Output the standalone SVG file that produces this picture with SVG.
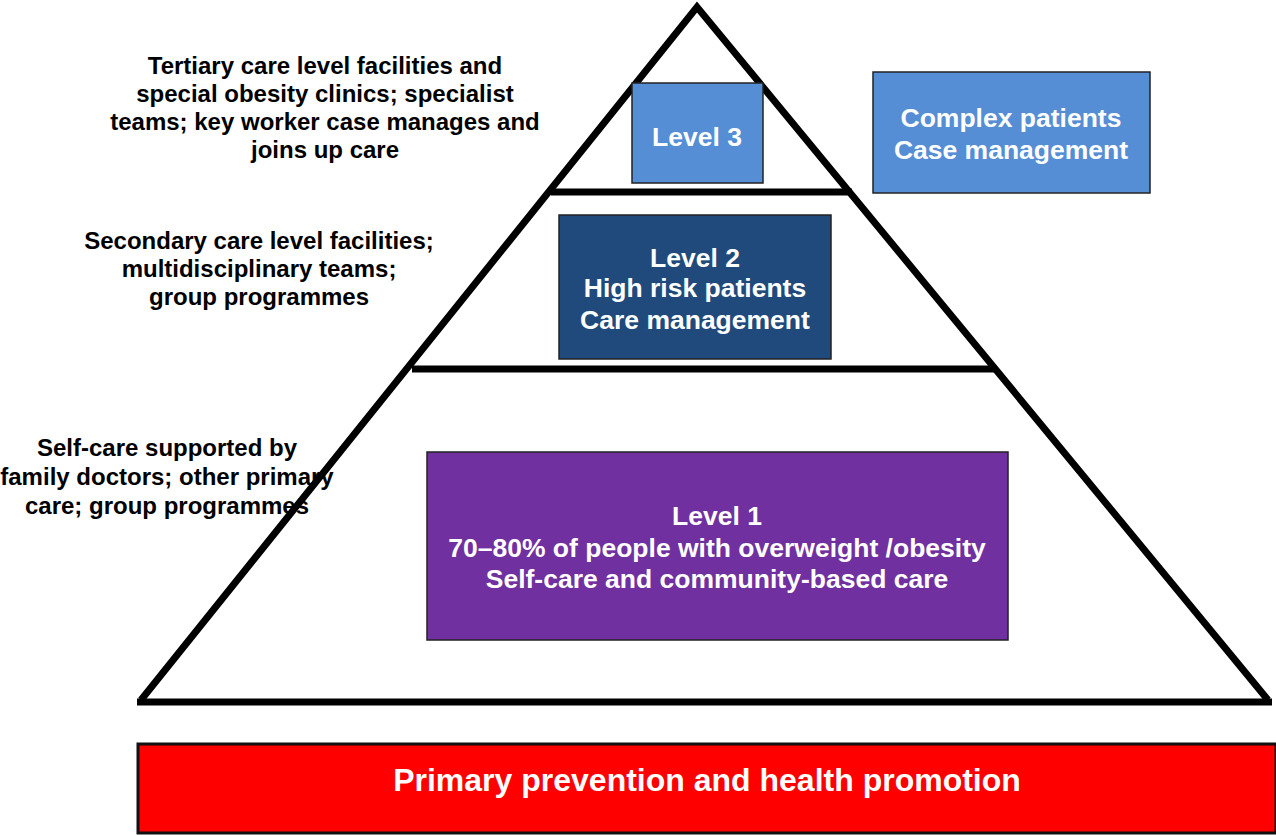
<svg xmlns="http://www.w3.org/2000/svg" width="1276" height="835" viewBox="0 0 1276 835">
<style>
.lbl{font-family:"Liberation Sans",Arial,sans-serif;font-weight:bold;font-size:24px;fill:#000;text-anchor:middle}
.bx{font-family:"Liberation Sans",Arial,sans-serif;font-weight:bold;fill:#fff;text-anchor:middle;font-size:26.5px}
.edge{stroke:#000;stroke-width:7;fill:none}
</style>
<rect width="1276" height="835" fill="#fff"/>
<g id="label-tertiary">
<text class="lbl" x="325" y="74">Tertiary care level facilities and</text>
<text class="lbl" x="325" y="102">special  obesity clinics; specialist</text>
<text class="lbl" x="325" y="130">teams; key  worker case manages and</text>
<text class="lbl" x="325" y="158">joins up care</text>
</g>
<g id="label-secondary">
<text class="lbl" x="259" y="249">Secondary care level facilities;</text>
<text class="lbl" x="259" y="277">multidisciplinary teams;</text>
<text class="lbl" x="259" y="305">group programmes</text>
</g>
<g id="label-selfcare">
<text class="lbl" x="167" y="456">Self-care supported by</text>
<text class="lbl" x="167" y="485">family doctors; other primary</text>
<text class="lbl" x="167" y="514">care; group programmes</text>
</g>
<g id="pyramid">
<path class="edge" d="M141,700 L697,7 L1268,700" stroke-linejoin="miter"/>
<line class="edge" x1="137" y1="702" x2="1272" y2="702"/>
<line class="edge" x1="551" y1="192" x2="852" y2="192"/>
<line class="edge" x1="412" y1="369" x2="995" y2="369"/>
</g>
<g id="level3">
<rect x="632" y="83" width="131" height="100" fill="#558ed5" stroke="#222" stroke-width="1.5"/>
<text class="bx" x="697" y="145.5">Level 3</text>
</g>
<g id="complex">
<rect x="873" y="72" width="277" height="121" fill="#558ed5" stroke="#222" stroke-width="1.5"/>
<text class="bx" x="1011" y="126.5">Complex patients</text>
<text class="bx" x="1011" y="158.5">Case management</text>
</g>
<g id="level2">
<rect x="559" y="215" width="272" height="144" fill="#214a7c" stroke="#222" stroke-width="1.5"/>
<text class="bx" x="695" y="266.5">Level 2</text>
<text class="bx" x="695" y="296.5">High risk patients</text>
<text class="bx" x="695" y="328.5">Care management</text>
</g>
<g id="level1">
<rect x="427" y="452" width="581" height="188" fill="#7030a0" stroke="#222" stroke-width="1.5"/>
<text class="bx" x="717" y="524.5">Level 1</text>
<text class="bx" x="717" y="556.5">70–80% of people with overweight /obesity</text>
<text class="bx" x="717" y="587.5">Self-care and community-based care</text>
</g>
<g id="prevention">
<rect x="138" y="744" width="1138" height="89" fill="#ff0000" stroke="#111" stroke-width="3"/>
<text class="bx" x="707" y="790.5" font-size="32" style="font-size:32px">Primary prevention and health promotion</text>
</g>
<g id="connectors"></g>
</svg>
